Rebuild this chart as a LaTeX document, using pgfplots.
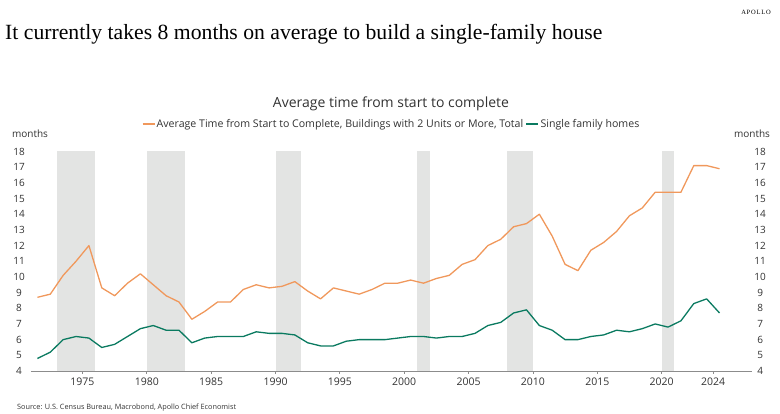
\documentclass[border=0pt]{standalone}
\usepackage{fontspec}
\setmainfont{Liberation Serif}
\newfontfamily\chartfont{Open Sans}
\usepackage{pgfplots}
\pgfplotsset{compat=1.18}

\definecolor{multi}{RGB}{240,152,92}
\definecolor{single}{RGB}{10,122,96}
\definecolor{recess}{RGB}{227,228,227}
\definecolor{axisgray}{RGB}{140,140,140}
\definecolor{txt}{RGB}{50,50,50}

\begin{document}
\begin{tikzpicture}
\path[use as bounding box] (0pt,0pt) rectangle (780pt,414pt);

% headline and branding
\node[anchor=base west, inner sep=0pt, font=\fontsize{21.7}{25}\selectfont] at (5pt,374.5pt)
  {It currently takes 8 months on average to build a single-family house};
\node[anchor=base east, inner sep=0pt, font=\fontsize{6.5}{8}\selectfont\addfontfeatures{LetterSpace=12}] at (771pt,399pt) {APOLLO};

% chart title and unit labels
\node[font=\chartfont\fontsize{14}{16}\selectfont, text=txt] at (391pt,310pt) {Average time from start to complete};
\node[font=\chartfont\fontsize{10}{12}\selectfont, text=txt] at (30pt,280pt) {months};
\node[font=\chartfont\fontsize{10}{12}\selectfont, text=txt] at (752pt,280pt) {months};
\node[anchor=base west, inner sep=0pt, font=\chartfont\fontsize{7.3}{9}\selectfont, text=txt] at (17pt,4.5pt)
  {Source: U.S. Census Bureau, Macrobond, Apollo Chief Economist};

\begin{axis}[
  at={(31pt,43pt)}, anchor=south west,
  scale only axis, width=720.7pt, height=219.5pt,
  xmin=1971, xmax=2027, ymin=4, ymax=18,
  axis x line*=bottom, axis y line*=left,
  y axis line style={draw=none},
  x axis line style={draw=axisgray, line width=0.8pt},
  xtick={1975,1980,...,2020,2024},
  ytick={4,...,18},
  xtick style={draw=axisgray, line width=0.8pt},
  ytick style={draw=none},
  tick align=outside, major tick length=3pt,
  /pgf/number format/1000 sep={},
  /pgf/number format/assume math mode=true,
  ticklabel style={font=\chartfont\fontsize{10}{12}\selectfont, text=txt},
  xticklabel style={font=\chartfont\fontsize{10.5}{12}\selectfont},
  yticklabel style={anchor=center, xshift=-9pt},
  legend columns=2,
  legend style={at={(0.5,1.125)}, anchor=center, draw=none, fill=none,
    font=\chartfont\fontsize{10.6}{12}\selectfont, text=txt,
    nodes={inner sep=1.5pt},
    /tikz/every even column/.append style={column sep=1pt}},
  legend cell align=left,
  legend image code/.code={\draw[#1, line width=1.3pt] (0pt,0pt) -- (12pt,0pt);},
]
% recession shading
\addplot[fill=recess, draw=none, forget plot] coordinates {(1973,4) (1973,18) (1976,18) (1976,4)} -- cycle;
\addplot[fill=recess, draw=none, forget plot] coordinates {(1980,4) (1980,18) (1983,18) (1983,4)} -- cycle;
\addplot[fill=recess, draw=none, forget plot] coordinates {(1990,4) (1990,18) (1992,18) (1992,4)} -- cycle;
\addplot[fill=recess, draw=none, forget plot] coordinates {(2001,4) (2001,18) (2002,18) (2002,4)} -- cycle;
\addplot[fill=recess, draw=none, forget plot] coordinates {(2008,4) (2008,18) (2010,18) (2010,4)} -- cycle;
\addplot[fill=recess, draw=none, forget plot] coordinates {(2020,4) (2020,18) (2021,18) (2021,4)} -- cycle;

% buildings with 2 units or more
\addplot[multi, line width=1.3pt, line join=round] coordinates {
(1971.5,8.7) (1972.5,8.9) (1973.5,10.1) (1974.5,11.0) (1975.5,12.0)
(1976.5,9.3) (1977.5,8.8) (1978.5,9.6) (1979.5,10.2) (1980.5,9.5)
(1981.5,8.8) (1982.5,8.4) (1983.5,7.3) (1984.5,7.8) (1985.5,8.4)
(1986.5,8.4) (1987.5,9.2) (1988.5,9.5) (1989.5,9.3) (1990.5,9.4)
(1991.5,9.7) (1992.5,9.1) (1993.5,8.6) (1994.5,9.3) (1995.5,9.1)
(1996.5,8.9) (1997.5,9.2) (1998.5,9.6) (1999.5,9.6) (2000.5,9.8)
(2001.5,9.6) (2002.5,9.9) (2003.5,10.1) (2004.5,10.8) (2005.5,11.1)
(2006.5,12.0) (2007.5,12.4) (2008.5,13.2) (2009.5,13.4) (2010.5,14.0)
(2011.5,12.6) (2012.5,10.8) (2013.5,10.4) (2014.5,11.7) (2015.5,12.2)
(2016.5,12.9) (2017.5,13.9) (2018.5,14.4) (2019.5,15.4) (2020.5,15.4)
(2021.5,15.4) (2022.5,17.1) (2023.5,17.1) (2024.5,16.9)};
\addlegendentry{Average Time from Start to Complete, Buildings with 2 Units or More, Total}

% single family homes
\addplot[single, line width=1.3pt, line join=round] coordinates {
(1971.5,4.8) (1972.5,5.2) (1973.5,6.0) (1974.5,6.2) (1975.5,6.1)
(1976.5,5.5) (1977.5,5.7) (1978.5,6.2) (1979.5,6.7) (1980.5,6.9)
(1981.5,6.6) (1982.5,6.6) (1983.5,5.8) (1984.5,6.1) (1985.5,6.2)
(1986.5,6.2) (1987.5,6.2) (1988.5,6.5) (1989.5,6.4) (1990.5,6.4)
(1991.5,6.3) (1992.5,5.8) (1993.5,5.6) (1994.5,5.6) (1995.5,5.9)
(1996.5,6.0) (1997.5,6.0) (1998.5,6.0) (1999.5,6.1) (2000.5,6.2)
(2001.5,6.2) (2002.5,6.1) (2003.5,6.2) (2004.5,6.2) (2005.5,6.4)
(2006.5,6.9) (2007.5,7.1) (2008.5,7.7) (2009.5,7.9) (2010.5,6.9)
(2011.5,6.6) (2012.5,6.0) (2013.5,6.0) (2014.5,6.2) (2015.5,6.3)
(2016.5,6.6) (2017.5,6.5) (2018.5,6.7) (2019.5,7.0) (2020.5,6.8)
(2021.5,7.2) (2022.5,8.3) (2023.5,8.6) (2024.5,7.7)};
\addlegendentry{Single family homes}
\end{axis}

% right-hand tick labels
\begin{axis}[
  at={(31pt,43pt)}, anchor=south west,
  scale only axis, width=720.7pt, height=219.5pt,
  xmin=1971, xmax=2027, ymin=4, ymax=18,
  axis x line=none, axis y line*=right,
  y axis line style={draw=none},
  ytick={4,...,18}, ytick style={draw=none},
  /pgf/number format/assume math mode=true,
  yticklabel style={font=\chartfont\fontsize{10}{12}\selectfont, text=txt, anchor=center, xshift=8.5pt},
]
\end{axis}
\end{tikzpicture}
\end{document}
